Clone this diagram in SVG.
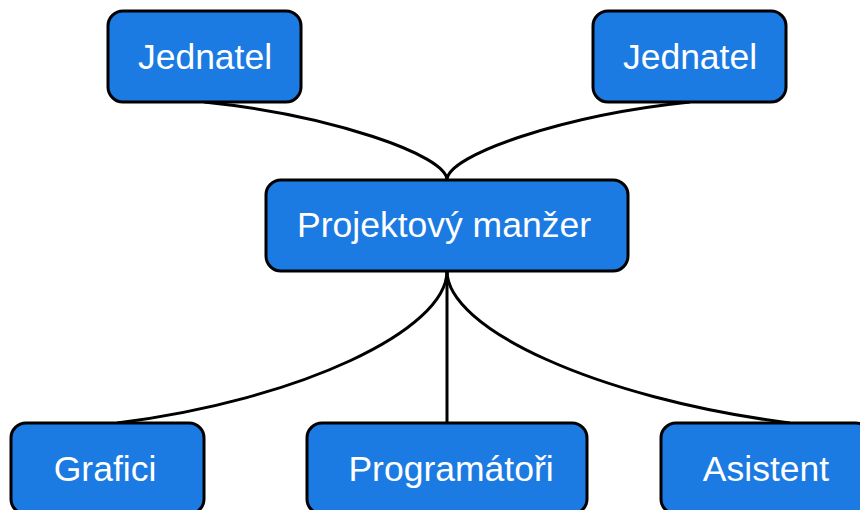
<svg xmlns="http://www.w3.org/2000/svg" width="860" height="510" viewBox="0 0 860 510">
<style>
.box{fill:#1b7be3;stroke:#000;stroke-width:3}
.lbl{font-family:"Liberation Sans",Arial,sans-serif;font-size:35.5px;fill:#fff;text-anchor:middle}
.edge{fill:none;stroke:#000;stroke-width:3}
</style>
<rect width="860" height="510" fill="#fff"/>
<g id="connectors">
<path class="edge" d="M204,102 C330,115 447,155 447,180"/>
<path class="edge" d="M690,102 C564,115 447,155 447,180"/>
<path class="edge" d="M447,271 C447,330 300,400 117,423"/>
<path class="edge" d="M447,271 L447,423"/>
<path class="edge" d="M447,271 C447,328 595,398 790,423"/>
</g>
<g id="jednatel1"><rect class="box" x="108" y="11" width="193" height="91" rx="15"/><text class="lbl" x="205" y="69">Jednatel</text></g>
<g id="jednatel2"><rect class="box" x="593" y="11" width="193" height="91" rx="15"/><text class="lbl" x="690" y="69">Jednatel</text></g>
<g id="manazer"><rect class="box" x="266" y="180" width="362" height="91" rx="15"/><text class="lbl" x="444" y="237">Projektový manžer</text></g>
<g id="grafici"><rect class="box" x="11" y="423" width="193" height="91" rx="15"/><text class="lbl" x="105" y="481">Grafici</text></g>
<g id="programatori"><rect class="box" x="307" y="423" width="280" height="91" rx="15"/><text class="lbl" x="451" y="481">Programátoři</text></g>
<g id="asistent"><rect class="box" x="661" y="423" width="210" height="91" rx="15"/><text class="lbl" x="766" y="481">Asistent</text></g>
</svg>
